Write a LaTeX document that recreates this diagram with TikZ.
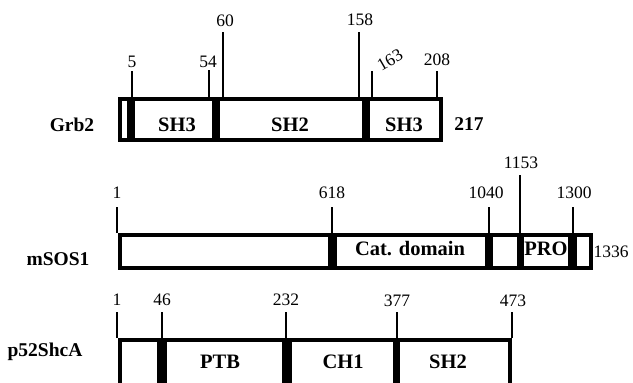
\documentclass[tikz,border=0pt]{standalone}
\usepackage{fontspec}
\setmainfont{Liberation Serif}
\begin{document}
\begin{tikzpicture}[x=1pt,y=-1pt,
  box/.style={draw=black,line width=4pt,fill=white},
  bar/.style={fill=black,draw=none},
  tick/.style={draw=black,line width=2.6pt},
  num/.style={font=\fontsize{17.5}{18}\selectfont,inner sep=0pt,anchor=base},
  dom/.style={font=\fontsize{20.5}{20}\selectfont\bfseries,inner sep=0pt,anchor=base},
  pname/.style={font=\fontsize{19.5}{20}\selectfont\bfseries,inner sep=0pt,anchor=base}]
\useasboundingbox (0,0) rectangle (633,383);
\clip (0,0) rectangle (633,383);
% ---------- Grb2 ----------
\draw[box] (120,99) rectangle (441,140);
\fill[bar] (127,97) rectangle (135,142);
\fill[bar] (212,97) rectangle (220,142);
\fill[bar] (362,97) rectangle (370,142);
\coordinate (g5t) at (132,71);  \coordinate (g5b) at (132,97);
\coordinate (g54t) at (209,70); \coordinate (g54b) at (209,97);
\coordinate (g60t) at (223,32); \coordinate (g60b) at (223,97);
\coordinate (g158t) at (359,32); \coordinate (g158b) at (359,97);
\coordinate (g163t) at (372,71); \coordinate (g163b) at (372,97);
\coordinate (g208t) at (437,71); \coordinate (g208b) at (437,97);
\draw[tick] (g5t) -- (g5b);
\draw[tick] (g54t) -- (g54b);
\draw[tick] (g60t) -- (g60b);
\draw[tick] (g158t) -- (g158b);
\draw[tick] (g163t) -- (g163b);
\draw[tick] (g208t) -- (g208b);
\node[num] (n5) at (132,67) {5};
\node[num] (n54) at (208,67) {54};
\node[num] (n60) at (225,26) {60};
\node[num] (n158) at (360,25) {158};
\node[num,rotate=30,anchor=center] (n163) at (390,60) {163};
\node[num] (n208) at (437,65) {208};
\node[pname] (grb2) at (72,131) {Grb2};
\node[dom] (gsh3a) at (177,131) {SH3};
\node[dom] (gsh2) at (290,131) {SH2};
\node[dom] (gsh3b) at (404,131) {SH3};
\node[pname] (n217) at (469,130) {217};
% ---------- mSOS1 ----------
\draw[box] (120,235) rectangle (591,268);
\fill[bar] (328,233) rectangle (337,270);
\fill[bar] (485,233) rectangle (493,270);
\fill[bar] (517,233) rectangle (524,270);
\fill[bar] (568,233) rectangle (577,270);
\coordinate (s1t) at (117,207); \coordinate (s1b) at (117,233);
\coordinate (s618t) at (332,207); \coordinate (s618b) at (332,233);
\coordinate (s1040t) at (489,207); \coordinate (s1040b) at (489,233);
\coordinate (s1153t) at (520,175); \coordinate (s1153b) at (520,233);
\coordinate (s1300t) at (573,207); \coordinate (s1300b) at (573,233);
\draw[tick] (s1t) -- (s1b);
\draw[tick] (s618t) -- (s618b);
\draw[tick] (s1040t) -- (s1040b);
\draw[tick] (s1153t) -- (s1153b);
\draw[tick] (s1300t) -- (s1300b);
\node[num] (m1) at (117,198) {1};
\node[num] (m618) at (332,198) {618};
\node[num] (m1040) at (486,198) {1040};
\node[num] (m1153) at (521,168) {1153};
\node[num] (m1300) at (574,198) {1300};
\node[pname] (msos) at (58,265) {mSOS1};
\node[dom] (cat) at (410,255) {Cat. domain};
\node[dom] (pro) at (546,255) {PRO};
\node[num] (m1336) at (611,257) {1336};
% ---------- p52ShcA ----------
\draw[box] (120,340) rectangle (510,400);
\fill[bar] (157,338) rectangle (167,402);
\fill[bar] (282,338) rectangle (292,402);
\fill[bar] (393,338) rectangle (400,402);
\coordinate (p1t) at (117,312); \coordinate (p1b) at (117,338);
\coordinate (p46t) at (162,312); \coordinate (p46b) at (162,338);
\coordinate (p232t) at (286,312); \coordinate (p232b) at (286,338);
\coordinate (p377t) at (397,312); \coordinate (p377b) at (397,338);
\coordinate (p473t) at (512,312); \coordinate (p473b) at (512,338);
\draw[tick] (p1t) -- (p1b);
\draw[tick] (p46t) -- (p46b);
\draw[tick] (p232t) -- (p232b);
\draw[tick] (p377t) -- (p377b);
\draw[tick] (p473t) -- (p473b);
\node[num] (q1) at (117,305) {1};
\node[num] (q46) at (162,305) {46};
\node[num] (q232) at (286,305) {232};
\node[num] (q377) at (397,306) {377};
\node[num] (q473) at (513,306) {473};
\node[pname] (shc) at (45,356) {p52ShcA};
\node[dom] (ptb) at (220,368) {PTB};
\node[dom] (ch1) at (343,368) {CH1};
\node[dom] (psh2) at (448,368) {SH2};
\end{tikzpicture}
\end{document}
